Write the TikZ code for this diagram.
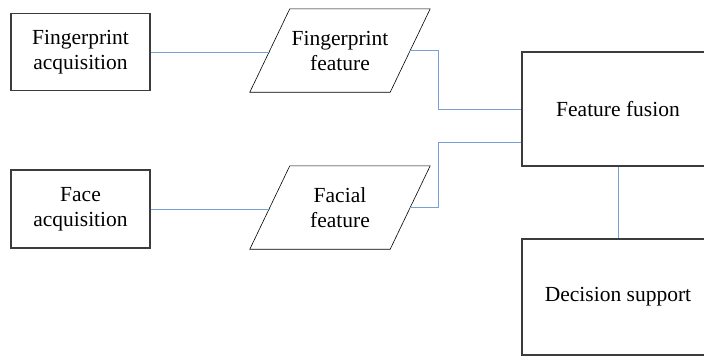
\documentclass[tikz,border=0pt]{standalone}
\usepackage{fontspec}
\newfontfamily\labelfont{Liberation Serif}
\usetikzlibrary{calc}
\definecolor{linkblue}{RGB}{120,160,215}
\definecolor{boxgray}{RGB}{60,60,60}
\tikzset{
  every node/.style={font=\labelfont\fontsize{21.5pt}{25pt}\selectfont, align=center, inner sep=0pt},
  stagebox/.style={draw=boxgray, line width=1.2pt, rectangle},
  featcore/.style={rectangle, minimum width=140pt, minimum height=83pt},
  featedge/.style={draw=black, line width=0.6pt},
  link/.style={draw=linkblue, line width=1pt},
}
% slanted outline around a feature node: sides lean 20pt either way
\newcommand\slantframe[1]{%
  \draw[featedge] ($(#1.south west)+(-20,0)$) -- ($(#1.north west)+(20,0)$)
    -- ($(#1.north east)+(20,0)$) -- ($(#1.south east)+(-20,0)$) -- cycle;}
\begin{document}
\begin{tikzpicture}[x=1pt,y=-1pt]
  \clip (0,0) rectangle (704,356);
  \useasboundingbox (0,0) rectangle (704,356);

  % acquisition stages
  \node[stagebox, minimum width=139pt, minimum height=77pt] (fpacq) at (80.5,52) {Fingerprint\\acquisition};
  \node[stagebox, minimum width=139pt, minimum height=78pt] (faceacq) at (80.5,209) {Face\\acquisition};

  % extracted features
  \node[featcore] (fpfeat) at (340,50.5) {Fingerprint\\feature};
  \node[featcore] (facefeat) at (340,207.5) {Facial\\feature};
  \slantframe{fpfeat}
  \slantframe{facefeat}

  % fusion and decision
  \node[stagebox, minimum width=192pt, minimum height=114pt] (fusion) at (618,109) {Feature fusion};
  \node[stagebox, minimum width=192pt, minimum height=116pt] (decision) at (618,297) {Decision support};

  % connectors
  \draw[link] (fpacq.east) -- (fpacq.east -| fpfeat.west);
  \draw[link] (faceacq.east) -- (faceacq.east -| facefeat.west);
  \draw[link] (fpfeat.east) -- ++(28,0) |- (fusion.west);
  \draw[link] (facefeat.east) -- ++(28,0) |- ([yshift=-33pt]fusion.west);
  \draw[link] (fusion.south) -- (decision.north);
\end{tikzpicture}
\end{document}
